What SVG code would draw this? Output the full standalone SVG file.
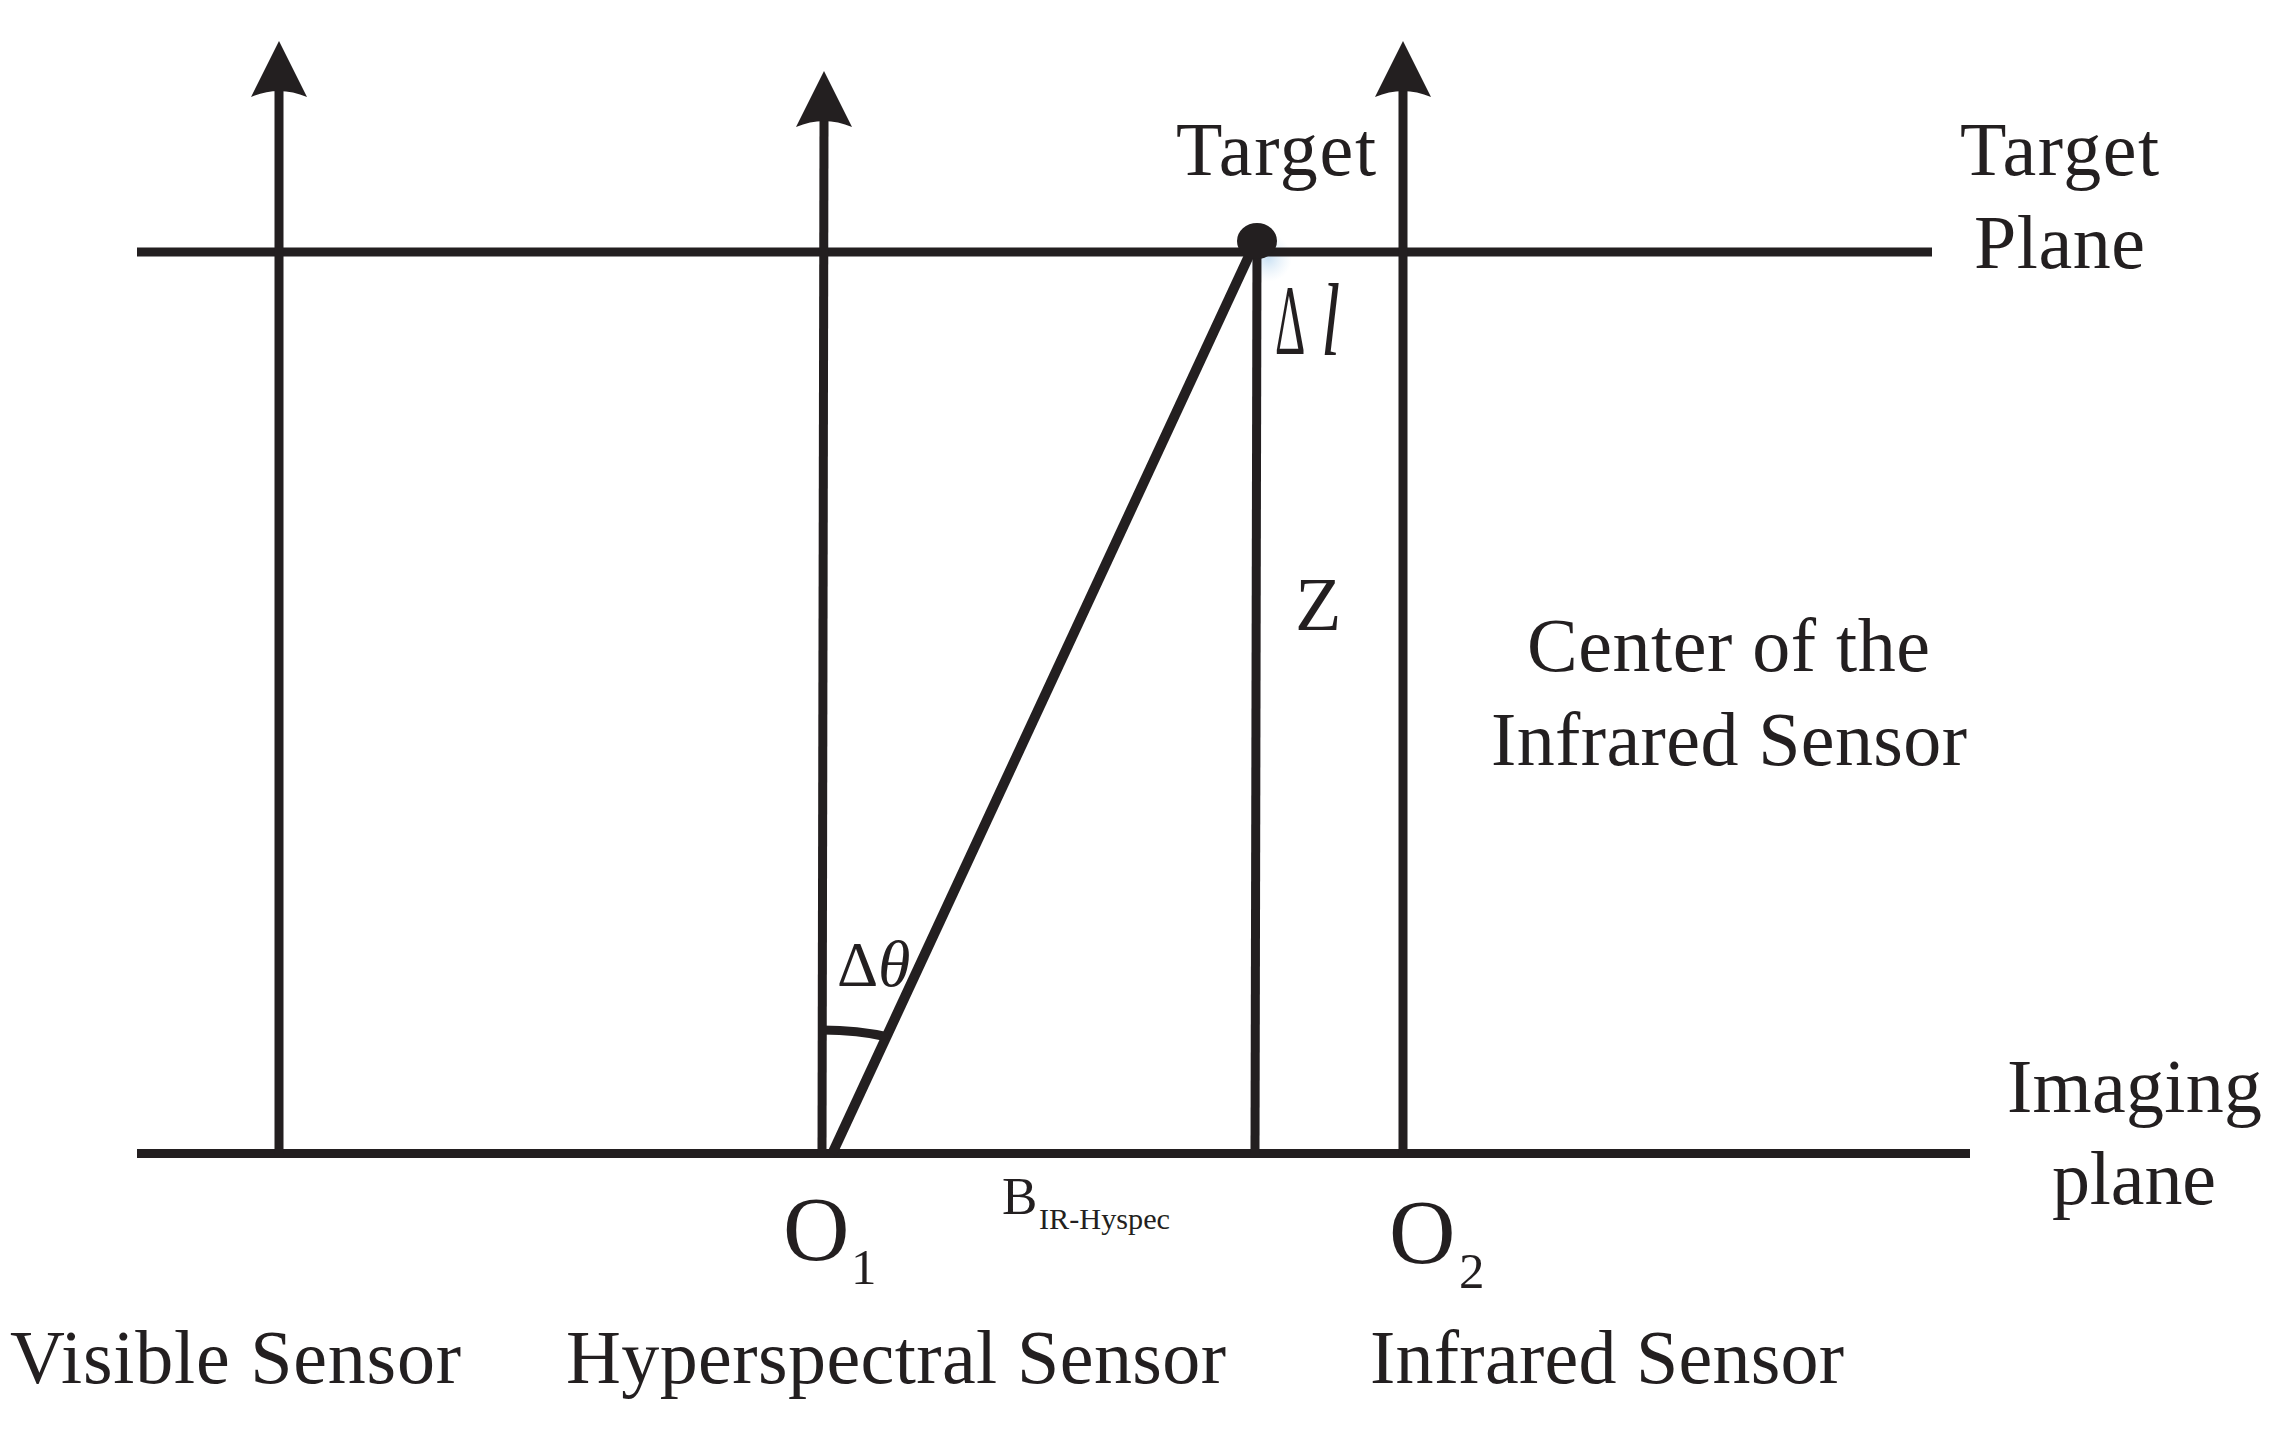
<svg xmlns="http://www.w3.org/2000/svg" width="2281" height="1435" viewBox="0 0 2281 1435" font-size="76">
<style>
.l{stroke:#231f20;stroke-width:9;fill:none}
.d{stroke-width:10}
.h{fill:#231f20}
text{font-family:"Liberation Serif","Times New Roman",serif;fill:#231f20}
.s{font-size:51px}
.o{font-size:92px}
.i{font-style:italic}
</style>
<defs>
<path id="head" class="h" d="M0 0L28 56Q0 44 -28 56Z"/>
<radialGradient id="glow"><stop offset="0" stop-color="#bcd9f0" stop-opacity=".8"/><stop offset="1" stop-color="#d8e9f6" stop-opacity="0"/></radialGradient>
</defs>
<rect width="2281" height="1435" fill="#fff"/>
<circle cx="1268" cy="258" r="24" fill="url(#glow)"/>
<g id="connectors">
<path class="l" d="M137 252H1932"/>
<path class="l" d="M137 1153.500H1970"/>
<path class="l" d="M279 90V1154"/>
<path class="l" d="M824 120L822 1154"/>
<path class="l" d="M1403 90V1154"/>
<path class="l" d="M1257 240L1255 1154"/>
<path class="l d" d="M1254 245L832 1154"/>
<path class="l" d="M822 1030Q858 1030 888 1037"/>
<use href="#head" x="279" y="41"/>
<use href="#head" x="824" y="71"/>
<use href="#head" x="1403" y="41"/>
</g>
<g id="target-point"><ellipse class="h" cx="1257" cy="241" rx="20" ry="18"/><text x="1176" y="175" textLength="200">Target</text></g>
<g id="target-plane"><text x="1960" y="175" textLength="199">Target</text><text x="1974" y="268" textLength="171">Plane</text></g>
<g id="delta-l"><text transform="translate(1275 354) scale(.62 1.3)" font-size="76">Δ</text><text transform="translate(1321 355) scale(.72 1.08)" font-size="96" class="i">l</text></g>
<g id="z"><text x="1295" y="630">Z</text></g>
<g id="infrared-center"><text x="1527" y="671" textLength="403">Center of the</text><text x="1491" y="765" textLength="476">Infrared Sensor</text></g>
<g id="delta-theta"><text x="837" y="986" font-size="64">Δ</text><text x="878" y="986" font-size="66" class="i">θ</text></g>
<g id="imaging-plane"><text x="2007" y="1112" textLength="255">Imaging</text><text x="2052" y="1204" textLength="164">plane</text></g>
<g id="o1"><text class="o" x="783" y="1260">O</text><text class="s" x="851" y="1284">1</text></g>
<g id="baseline"><text x="1002" y="1214" font-size="53">B</text><text x="1039" y="1229" font-size="30" textLength="131" lengthAdjust="spacingAndGlyphs">IR-Hyspec</text></g>
<g id="o2"><text class="o" x="1389" y="1263">O</text><text class="s" x="1459" y="1288">2</text></g>
<g id="visible-sensor"><text x="10" y="1383" textLength="451">Visible Sensor</text></g>
<g id="hyperspectral-sensor"><text x="566" y="1383" textLength="660">Hyperspectral Sensor</text></g>
<g id="infrared-sensor"><text x="1370" y="1383" textLength="474">Infrared Sensor</text></g>
</svg>
